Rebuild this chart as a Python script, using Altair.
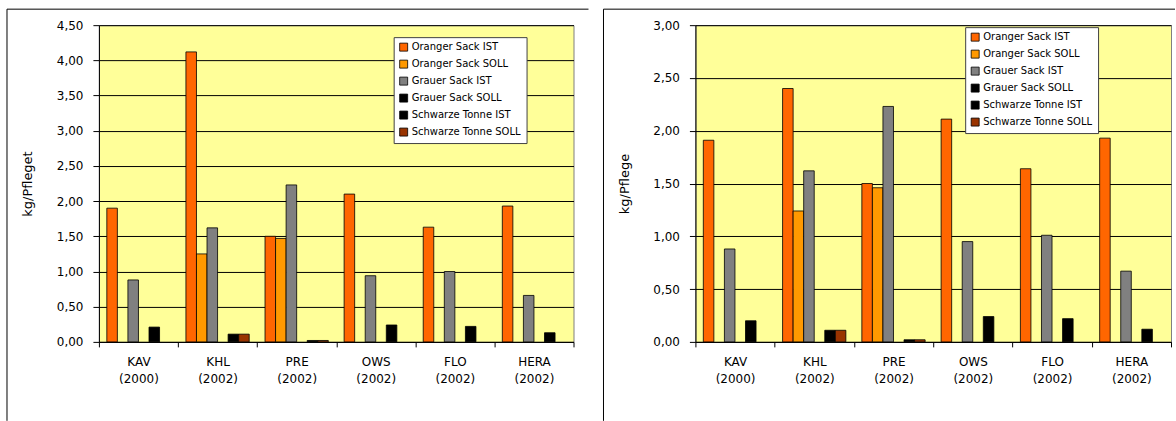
import altair as alt
import pandas as pd

categories = ["KAV (2000)", "KHL (2002)", "PRE (2002)", "OWS (2002)", "FLO (2002)", "HERA (2002)"]
series = ["Oranger Sack IST", "Oranger Sack SOLL", "Grauer Sack IST",
          "Grauer Sack SOLL", "Schwarze Tonne IST", "Schwarze Tonne SOLL"]
colors = ["#FF6600", "#FF9900", "#808080", "#000000", "#000000", "#993300"]

# left panel (kg/Pfleget)
orange_ist_l = [1.90, 4.12, 1.50, 2.10, 1.63, 1.93]
orange_soll_l = [None, 1.25, 1.47, None, None, None]
grau_ist_l = [0.88, 1.62, 2.23, 0.94, 1.00, 0.66]
grau_soll_l = [None, None, None, None, None, None]
schwarz_ist_l = [0.21, 0.11, 0.02, 0.24, 0.22, 0.13]
schwarz_soll_l = [None, 0.11, 0.02, None, None, None]

# right panel (kg/Pflege)
orange_ist_r = [1.91, 2.40, 1.50, 2.11, 1.64, 1.93]
orange_soll_r = [None, 1.24, 1.46, None, None, None]
grau_ist_r = [0.88, 1.62, 2.23, 0.95, 1.01, 0.67]
grau_soll_r = [None, None, None, None, None, None]
schwarz_ist_r = [0.20, 0.11, 0.02, 0.24, 0.22, 0.12]
schwarz_soll_r = [None, 0.11, 0.02, None, None, None]

ticks_l = [0, 0.5, 1.0, 1.5, 2.0, 2.5, 3.0, 3.5, 4.0, 4.5]
ticks_r = [0, 0.5, 1.0, 1.5, 2.0, 2.5, 3.0]

FONT = "DejaVu Sans"


def to_long(cols):
    rows = []
    for s, vals in zip(series, cols):
        for c, v in zip(categories, vals):
            if v is not None:
                rows.append({"cat": c, "series": s, "value": v})
    return pd.DataFrame(rows)


def rule(x, y, x2=None, y2=None):
    enc = {"x": alt.value(x), "y": alt.value(y)}
    if x2 is not None:
        enc["x2"] = alt.value(x2)
    if y2 is not None:
        enc["y2"] = alt.value(y2)
    return alt.Chart(alt.Data(values=[{"k": 0}])).mark_rule(
        color="black", strokeWidth=1).encode(**enc)


def panel(df, ymax, ticks, title, lx, ly, width, right_side):
    bars = alt.Chart(df).mark_bar(stroke="black", strokeWidth=0.8, opacity=1).encode(
        x=alt.X("cat:N", sort=categories,
                scale=alt.Scale(paddingInner=0, paddingOuter=0),
                axis=alt.Axis(title=None, labelAngle=0,
                              labelExpr="split(datum.label, ' ')",
                              tickBand="extent", tickSize=5, labelPadding=10,
                              labelLineHeight=17, labelBaseline="top",
                              labelFontSize=12, labelColor="black",
                              domainColor="black", tickColor="black", grid=False)),
        xOffset=alt.XOffset("series:N",
                            scale=alt.Scale(domain=series, paddingOuter=0.75, paddingInner=0)),
        y=alt.Y("value:Q",
                scale=alt.Scale(domain=[0, ymax], nice=False, zero=True),
                axis=alt.Axis(values=ticks,
                              labelExpr="replace(format(datum.value, '.2f'), '.', ',')",
                              grid=True, gridColor="black", gridWidth=1, gridOpacity=1,
                              tickSize=6, labelPadding=10, labelFontSize=12,
                              labelColor="black", domainColor="black", tickColor="black",
                              title=title, titleFontSize=13, titleFontWeight="normal",
                              titleColor="black", titleAngle=270, titleX=-71,
                              titleY=158.5, titleAlign="center", titleBaseline="middle")),
        color=alt.Color("series:N",
                        scale=alt.Scale(domain=series, range=colors),
                        legend=alt.Legend(orient="none", legendX=lx, legendY=ly,
                                          title=None, fillColor="white",
                                          strokeColor="#404040", padding=5,
                                          symbolType="square", symbolSize=64,
                                          symbolStrokeColor="black",
                                          symbolStrokeWidth=0.8, symbolOpacity=1,
                                          labelFontSize=10, labelColor="black",
                                          rowPadding=5, labelOffset=3)),
    ).properties(width=width, height=317)

    layers = [rule(-92, -16, y2=396), rule(-92, -16, x2=right_side)]
    if right_side < 480:
        layers.append(rule(right_side, -16, y2=396))
    layers.append(bars)
    return alt.layer(*layers).properties(width=width, height=317)


left = panel(to_long([orange_ist_l, orange_soll_l, grau_ist_l, grau_soll_l,
                      schwarz_ist_l, schwarz_soll_l]),
             4.5, ticks_l, "kg/Pfleget", 295, 12, 475, 490)
right = panel(to_long([orange_ist_r, orange_soll_r, grau_ist_r, grau_soll_r,
                       schwarz_ist_r, schwarz_soll_r]),
              3.0, ticks_r, "kg/Pflege", 270, 2, 476, 480)

chart = alt.hconcat(left, right, spacing=122, bounds="flush").resolve_scale(
    y="independent", color="independent"
).properties(
    padding={"left": 6, "top": 8, "right": 0, "bottom": 0},
    background="white",
).configure(font=FONT).configure_view(fill="#FFFF99", stroke="#808080", strokeWidth=1)

chart.save("out.html", embed_options={"renderer": "svg", "actions": False})
